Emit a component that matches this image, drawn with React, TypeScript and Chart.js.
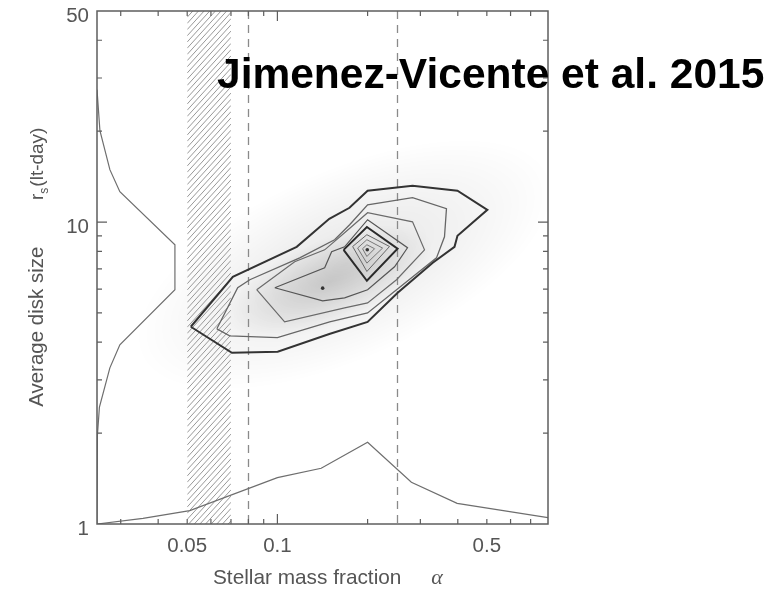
import React, { useEffect, useRef } from "react";
import { Chart, registerables } from "chart.js";
Chart.register(...registerables);

const X_MIN = 0.025;
const X_MAX = 0.8;
const Y_MIN = 1;
const Y_MAX = 50;

const xLabelValues = [0.05, 0.1, 0.5];
const xLabelTexts = ["0.05", "0.1", "0.5"];
const yLabelValues = [1, 10, 50];
const yLabelTexts = ["1", "10", "50"];
const xMajorTicks = [0.1];
const xMinorTicks = [0.03, 0.04, 0.05, 0.06, 0.07, 0.08, 0.09, 0.2, 0.3, 0.4, 0.5, 0.6, 0.7];
const yMajorTicks = [10];
const yMinorTicks = [2, 3, 4, 5, 6, 7, 8, 9, 20, 30, 40];

const hatchRange = [0.05, 0.07];
const dashedLines = [0.08, 0.25];

const titleText = "Jimenez-Vicente et al. 2015";
const xTitle = "Stellar mass fraction";
const xTitleSymbol = "α";
const yTitle = "Average disk size";

// density background centres (data coordinates)
const blobX = [0.1676, 0.1494];
const blobY = [7.22, 6.34];

// contours
const outerX = [0.0514, 0.071, 0.116, 0.149, 0.174, 0.2, 0.2825, 0.399, 0.502, 0.399, 0.39, 0.33, 0.252, 0.2, 0.149, 0.1002, 0.0705];
const outerY = [4.5, 6.59, 8.28, 10.25, 11.15, 12.7, 13.19, 12.7, 10.98, 9.01, 8.28, 7.33, 5.83, 4.67, 4.26, 3.72, 3.69];
const c2X = [0.0628, 0.0737, 0.0809, 0.1187, 0.1552, 0.1742, 0.2, 0.2825, 0.3666, 0.3611, 0.3396, 0.2698, 0.2, 0.1494, 0.1, 0.0693];
const c2Y = [4.43, 6.06, 6.44, 7.61, 8.74, 9.8, 11.41, 12.04, 11.07, 8.94, 7.61, 6.34, 5.0, 4.67, 4.14, 4.2];
const c3X = [0.0853, 0.1142, 0.1438, 0.1676, 0.2, 0.2825, 0.3097, 0.2498, 0.2, 0.1676, 0.1057];
const c3Y = [5.97, 7.39, 8.09, 9.22, 10.74, 10.02, 8.09, 6.44, 5.4, 5.2, 4.67];
const c4X = [0.098, 0.1438, 0.1517, 0.1676, 0.2, 0.2718, 0.246, 0.2, 0.1676, 0.1416];
const c4Y = [6.06, 7.06, 7.97, 8.28, 10.18, 8.22, 7.11, 5.97, 5.61, 5.48];
const d1X = [0.1663, 0.1989, 0.2518, 0.1989];
const d1Y = [8.09, 9.63, 8.16, 6.39];
const d2X = [0.1783, 0.1989, 0.2367, 0.1989];
const d2Y = [8.3, 9.08, 8.3, 6.86];
const d3X = [0.1852, 0.1989, 0.2244, 0.1989];
const d3Y = [8.2, 8.74, 8.2, 7.31];
const d4X = [0.1924, 0.1989, 0.211, 0.1989];
const d4Y = [8.16, 8.41, 8.16, 7.69];
const dotX = [0.1416, 0.1995];
const dotY = [6.04, 8.1];

// marginal distributions
const bottomMargX = [0.025, 0.0356, 0.051, 0.1, 0.14, 0.2, 0.28, 0.398, 0.8];
const bottomMargY = [1.0, 1.044, 1.107, 1.424, 1.53, 1.866, 1.375, 1.171, 1.049];
const leftMargX = [0.025, 0.02557, 0.0276, 0.0298, 0.0455, 0.0455, 0.0298, 0.0276, 0.02547, 0.02508, 0.025];
const leftMargY = [27.45, 20.07, 14.91, 12.6, 8.41, 5.97, 3.92, 3.29, 2.44, 1.97, 1.0];

const pts = (xs: number[], ys: number[], close = false) => {
  const p = xs.map((x, i) => ({ x, y: ys[i] }));
  if (close) p.push({ x: xs[0], y: ys[0] });
  return p;
};

const lineDs = (data: any[], color: string, width: number) => ({
  data,
  showLine: true,
  borderColor: color,
  borderWidth: width,
  pointRadius: 0,
  fill: false,
  tension: 0,
});

const SANS = "'Liberation Sans', Arial, Helvetica, sans-serif";

const decor = {
  id: "decor",
  beforeDatasetsDraw(chart: any) {
    const { ctx, chartArea: a, scales } = chart;
    const xs = scales.x;
    const ys = scales.y;
    ctx.save();
    ctx.beginPath();
    ctx.rect(a.left, a.top, a.right - a.left, a.bottom - a.top);
    ctx.clip();

    // density shading
    const blobStyle = [
      { rx: 225, ry: 95, rot: -24, alpha: 0.1 },
      { rx: 110, ry: 42, rot: -22, alpha: 0.14 },
    ];
    blobX.forEach((bx, i) => {
      const cx = xs.getPixelForValue(bx);
      const cy = ys.getPixelForValue(blobY[i]);
      const s = blobStyle[i];
      ctx.save();
      ctx.translate(cx, cy);
      ctx.rotate((s.rot * Math.PI) / 180);
      ctx.scale(s.rx, s.ry);
      const g = ctx.createRadialGradient(0, 0, 0, 0, 0, 1);
      g.addColorStop(0, `rgba(0,0,0,${s.alpha})`);
      g.addColorStop(0.45, `rgba(0,0,0,${s.alpha * 0.6})`);
      g.addColorStop(1, "rgba(0,0,0,0)");
      ctx.fillStyle = g;
      ctx.beginPath();
      ctx.arc(0, 0, 1, 0, Math.PI * 2);
      ctx.fill();
      ctx.restore();
    });

    // hatched band
    const hx0 = xs.getPixelForValue(hatchRange[0]);
    const hx1 = xs.getPixelForValue(hatchRange[1]);
    ctx.save();
    ctx.beginPath();
    ctx.rect(hx0, a.top, hx1 - hx0, a.bottom - a.top);
    ctx.clip();
    ctx.strokeStyle = "#8c8c8c";
    ctx.lineWidth = 0.9;
    const w = hx1 - hx0;
    const slope = 1.1;
    for (let yy = a.top; yy < a.bottom + w * slope + 10; yy += 6.2) {
      ctx.beginPath();
      ctx.moveTo(hx0, yy);
      ctx.lineTo(hx1, yy - w * slope);
      ctx.stroke();
    }
    ctx.restore();

    // dashed vertical lines
    ctx.strokeStyle = "#8a8a8a";
    ctx.lineWidth = 1.3;
    ctx.setLineDash([8, 6]);
    dashedLines.forEach((v) => {
      const px = Math.round(xs.getPixelForValue(v)) + 0.5;
      ctx.beginPath();
      ctx.moveTo(px, a.top);
      ctx.lineTo(px, a.bottom);
      ctx.stroke();
    });
    ctx.setLineDash([]);
    ctx.restore();
  },
  afterDraw(chart: any) {
    const { ctx, chartArea: a, scales } = chart;
    const xs = scales.x;
    const ys = scales.y;
    ctx.save();
    // frame
    ctx.strokeStyle = "#5e5e5e";
    ctx.lineWidth = 1.5;
    ctx.strokeRect(a.left, a.top, a.right - a.left, a.bottom - a.top);

    ctx.lineWidth = 1.2;
    const xt = (v: number, len: number) => {
      const px = xs.getPixelForValue(v);
      ctx.beginPath();
      ctx.moveTo(px, a.bottom);
      ctx.lineTo(px, a.bottom - len);
      ctx.moveTo(px, a.top);
      ctx.lineTo(px, a.top + len);
      ctx.stroke();
    };
    const yt = (v: number, len: number) => {
      const py = ys.getPixelForValue(v);
      ctx.beginPath();
      ctx.moveTo(a.left, py);
      ctx.lineTo(a.left + len, py);
      ctx.moveTo(a.right, py);
      ctx.lineTo(a.right - len, py);
      ctx.stroke();
    };
    xMajorTicks.forEach((v) => xt(v, 10));
    xMinorTicks.forEach((v) => xt(v, 5));
    yMajorTicks.forEach((v) => yt(v, 10));
    yMinorTicks.forEach((v) => yt(v, 5));

    // tick labels
    ctx.fillStyle = "#555";
    ctx.font = `20.5px ${SANS}`;
    ctx.textAlign = "center";
    ctx.textBaseline = "middle";
    xLabelValues.forEach((v, i) => {
      ctx.fillText(xLabelTexts[i], xs.getPixelForValue(v), a.bottom + 22);
    });
    ctx.textAlign = "right";
    yLabelValues.forEach((v, i) => {
      ctx.fillText(yLabelTexts[i], a.left - 8, ys.getPixelForValue(v) + 5);
    });

    // x title
    ctx.textBaseline = "alphabetic";
    ctx.textAlign = "left";
    ctx.font = `20.8px ${SANS}`;
    ctx.fillText(xTitle, 213, a.bottom + 60);
    ctx.font = `italic 22px 'Liberation Serif', 'Times New Roman', serif`;
    ctx.textAlign = "center";
    ctx.fillText(xTitleSymbol, 437, a.bottom + 60);

    // y title
    ctx.save();
    ctx.translate(43, 326.7);
    ctx.rotate(-Math.PI / 2);
    ctx.font = `20.5px ${SANS}`;
    ctx.textAlign = "center";
    ctx.fillText(yTitle, 0, 0);
    ctx.textAlign = "left";
    let xp = 126.7;
    ctx.font = `19px ${SANS}`;
    ctx.fillText("r", xp, 0);
    xp += ctx.measureText("r").width;
    ctx.font = `12px ${SANS}`;
    ctx.fillText("s", xp, 5);
    xp += ctx.measureText("s").width + 1;
    ctx.font = `19px ${SANS}`;
    ctx.fillText("(lt-day)", xp, 0);
    ctx.restore();

    // title
    ctx.fillStyle = "#000";
    ctx.font = `bold 42.5px ${SANS}`;
    ctx.textAlign = "left";
    ctx.textBaseline = "alphabetic";
    ctx.fillText(titleText, 217, 88);
    ctx.restore();
  },
};

export default function App() {
  const ref = useRef<HTMLCanvasElement | null>(null);
  useEffect(() => {
    if (!ref.current) return;
    const chart = new Chart(ref.current, {
      type: "scatter",
      data: {
        datasets: [
          lineDs(pts(bottomMargX, bottomMargY), "#6e6e6e", 1.2),
          lineDs(pts(leftMargX, leftMargY), "#6e6e6e", 1.2),
          lineDs(pts(outerX, outerY, true), "#333", 2),
          lineDs(pts(c2X, c2Y, true), "#666", 1.3),
          lineDs(pts(c3X, c3Y, true), "#6a6a6a", 1.2),
          lineDs(pts(c4X, c4Y, true), "#555", 1.2),
          lineDs(pts(d1X, d1Y, true), "#2a2a2a", 2),
          lineDs(pts(d2X, d2Y, true), "#666", 1),
          lineDs(pts(d3X, d3Y, true), "#777", 1),
          lineDs(pts(d4X, d4Y, true), "#777", 1),
          {
            data: pts(dotX, dotY),
            showLine: false,
            pointRadius: 1.8,
            pointBackgroundColor: "#333",
            pointBorderWidth: 0,
          },
        ],
      },
      options: {
        animation: false,
        responsive: false,
        maintainAspectRatio: false,
        events: [],
        layout: { padding: { left: 97, top: 11, right: 229, bottom: 65 } },
        plugins: { legend: { display: false }, tooltip: { enabled: false } },
        scales: {
          x: { type: "logarithmic", min: X_MIN, max: X_MAX, display: false },
          y: { type: "logarithmic", min: Y_MIN, max: Y_MAX, display: false },
        },
      },
      plugins: [decor],
    } as any);
    return () => chart.destroy();
  }, []);
  return (
    <div style={{ position: "absolute", left: 0, top: 0, width: 777, height: 589, background: "#fff" }}>
      <canvas ref={ref} width={777} height={589} style={{ display: "block" }} />
    </div>
  );
}
